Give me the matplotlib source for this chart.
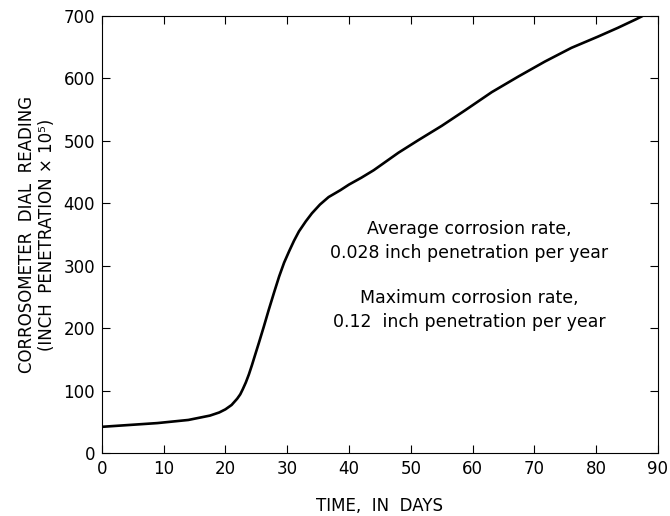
import numpy as np
import matplotlib
matplotlib.use("Agg")
import matplotlib.pyplot as plt

# dial reading vs. time
days = [0, 3, 6, 9, 12, 14, 16, 17.5, 19, 20, 21, 21.9, 22.4, 22.8, 23.3,
        23.8, 24.3, 24.8, 25.4, 26.2, 27.0, 27.9, 28.7, 29.5, 30.3, 31.1,
        31.9, 33.0, 34.0, 35.3, 36.7, 38.6, 40, 42, 44, 46, 48, 51.2, 55.0,
        58.8, 63.1, 67.4, 71.7, 76.0, 80.3, 83.5, 86.5, 87.5]
reading = [42, 44, 46, 48, 51, 53, 57, 60, 65, 70, 77, 87, 94, 102, 113,
           126, 141, 157, 176, 202, 229, 258, 283, 305, 323, 340,
           355, 371, 384, 398, 410, 421, 430, 441, 453, 467, 481, 501, 524,
           549, 578, 603, 627, 649, 667, 681, 695, 700]

x_ticks = list(range(0, 100, 10))
y_ticks = list(range(0, 800, 100))

note_avg = "Average corrosion rate,\n0.028 inch penetration per year"
note_max = "Maximum corrosion rate,\n0.12  inch penetration per year"

plt.rcParams['font.family'] = ['DejaVu Sans']

fig = plt.figure(figsize=(6.7, 5.16), dpi=100)
ax = fig.add_axes([0.152, 0.122, 0.830, 0.847])

ax.plot(days, reading, c='black', lw=1.9, solid_joinstyle='round',
        solid_capstyle='round')

ax.set_xlim(0, 90)
ax.set_ylim(0, 700)
ax.set_xticks(x_ticks)
ax.set_yticks(y_ticks)
ax.tick_params(direction='in', length=5.5, width=0.8, top=True, right=True,
               labelsize=12, pad=5, colors='black')
for s in ax.spines.values():
    s.set_linewidth(0.8)

ax.text(59.5, 340, note_avg, ha='center', va='center', fontsize=12.5,
        linespacing=1.4)
ax.text(59.5, 229, note_max, ha='center', va='center', fontsize=12.5,
        linespacing=1.4)

ax.set_xlabel('TIME,  IN  DAYS', fontsize=12, labelpad=14)
ax.set_ylabel('CORROSOMETER  DIAL  READING\n(INCH  PENETRATION \u00d7 10\u2075)',
              fontsize=12, labelpad=5, linespacing=1.15)

fig.savefig('out.png', dpi=100)
